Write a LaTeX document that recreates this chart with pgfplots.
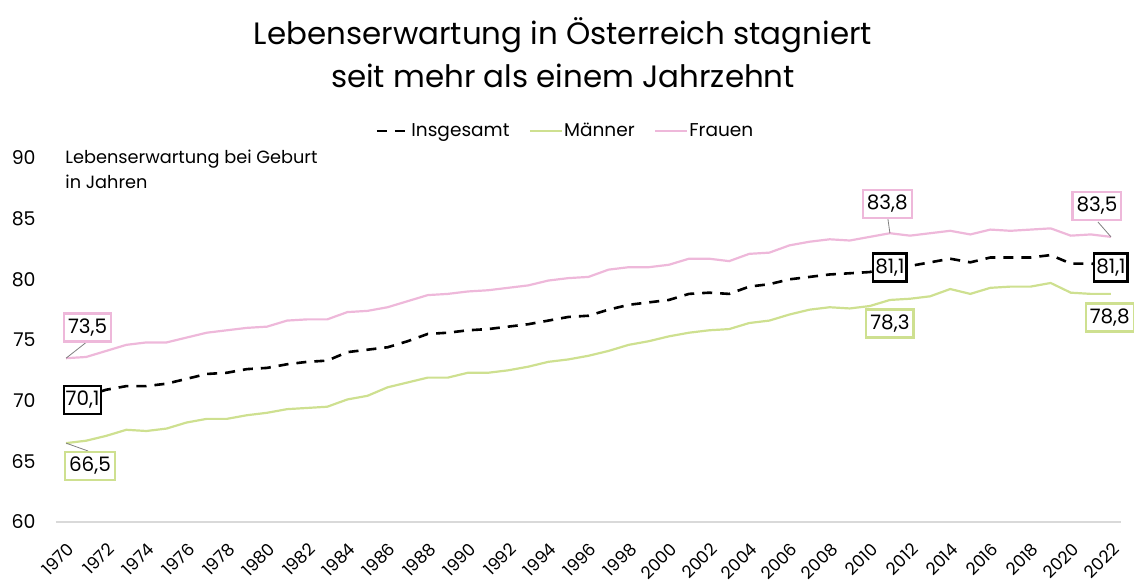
\documentclass[border=0pt]{standalone}
\usepackage{pgfplots}
\pgfplotsset{compat=1.18}
\usepackage{fontspec}
\setmainfont{Poppins}
\definecolor{frauen}{HTML}{EEB8DA}
\definecolor{maenner}{HTML}{CEE090}
\definecolor{axisgray}{HTML}{D9D9D9}

\pgfplotstableread{
year total men women
1970 70.1 66.5 73.5
1971 70.4 66.7 73.6
1972 70.9 67.1 74.1
1973 71.2 67.6 74.6
1974 71.2 67.5 74.8
1975 71.4 67.7 74.8
1976 71.8 68.2 75.2
1977 72.2 68.5 75.6
1978 72.3 68.5 75.8
1979 72.6 68.8 76.0
1980 72.7 69.0 76.1
1981 73.0 69.3 76.6
1982 73.2 69.4 76.7
1983 73.3 69.5 76.7
1984 74.0 70.1 77.3
1985 74.2 70.4 77.4
1986 74.4 71.1 77.7
1987 74.9 71.5 78.2
1988 75.5 71.9 78.7
1989 75.6 71.9 78.8
1990 75.8 72.3 79.0
1991 75.9 72.3 79.1
1992 76.1 72.5 79.3
1993 76.3 72.8 79.5
1994 76.6 73.2 79.9
1995 76.9 73.4 80.1
1996 77.0 73.7 80.2
1997 77.5 74.1 80.8
1998 77.9 74.6 81.0
1999 78.1 74.9 81.0
2000 78.3 75.3 81.2
2001 78.8 75.6 81.7
2002 78.9 75.8 81.7
2003 78.8 75.9 81.5
2004 79.4 76.4 82.1
2005 79.6 76.6 82.2
2006 80.0 77.1 82.8
2007 80.2 77.5 83.1
2008 80.4 77.7 83.3
2009 80.5 77.6 83.2
2010 80.6 77.8 83.5
2011 81.1 78.3 83.8
2012 81.1 78.4 83.6
2013 81.4 78.6 83.8
2014 81.7 79.2 84.0
2015 81.4 78.8 83.7
2016 81.8 79.3 84.1
2017 81.8 79.4 84.0
2018 81.8 79.4 84.1
2019 82.0 79.7 84.2
2020 81.3 78.9 83.6
2021 81.3 78.8 83.7
2022 81.1 78.8 83.5
}\lifedata

\begin{document}
\begin{tikzpicture}
\useasboundingbox (-28bp,-32.5bp) rectangle (539bp,261bp);
\begin{axis}[
  at={(0,0)}, anchor=south west,
  scale only axis, width=532.5bp, height=182bp,
  xmin=1969.5, xmax=2022.5, ymin=60, ymax=90,
  xtick={1970,1972,...,2022},
  ytick={60,65,...,90},
  axis x line*=bottom, axis y line*=left,
  x axis line style={draw=axisgray, line width=1bp, -},
  y axis line style={draw=none},
  major tick length=0pt,
  /pgf/number format/assume math mode=true,
  /pgf/number format/1000 sep={},
  yticklabel style={font=\fontsize{9.5}{11}\selectfont, text=black, inner sep=0pt, xshift=-10bp, anchor=east},
  xticklabel style={font=\fontsize{8.6}{10}\selectfont, text=black, inner sep=0pt, xshift=2.5bp, yshift=-12bp, rotate=45, anchor=east},
  clip=false,
  legend columns=3,
  legend style={draw=none, fill=none, at={(0.478,1.074)}, anchor=center,
    font=\fontsize{9.3}{11}\selectfont, nodes={inner xsep=0.6bp},
    /tikz/every even column/.append style={column sep=9bp}},
  legend image code/.code={\draw[#1] (0bp,0bp) -- (16bp,0bp);},
]
\addplot[black, line width=1.3bp, dash pattern=on 5bp off 4bp] table[x=year, y=total] {\lifedata};
\addlegendentry{Insgesamt}
\addplot[maenner, line width=1.1bp] table[x=year, y=men] {\lifedata};
\addlegendentry{Männer}
\addplot[frauen, line width=1.1bp] table[x=year, y=women] {\lifedata};
\addlegendentry{Frauen}

% leader lines
\draw[gray, line width=0.4bp] (axis cs:1970,73.5) -- (axis cs:1971.0,74.8);
\draw[gray, line width=0.4bp] (axis cs:1970,66.5) -- (axis cs:1971.1,65.85);
\draw[gray, line width=0.4bp] (axis cs:2011,83.8) -- (axis cs:2010.9,84.98);
\draw[gray, line width=0.4bp] (axis cs:2022,83.5) -- (axis cs:2021.35,84.73);

\tikzset{lab/.style={font=\fontsize{10}{12}\selectfont, fill=white, line width=1.1bp, inner xsep=2bp, inner ysep=2.8bp, text depth=0.12em, text height=0.72em}}
\node[lab, draw=frauen] at (axis cs:1971.07,76.03) {73,5};
\node[lab, draw=black, inner xsep=1bp] at (axis cs:1970.82,70.06) {70,1};
\node[lab, draw=maenner] at (axis cs:1971.19,64.62) {66,5};
\node[lab, draw=frauen] at (axis cs:2010.87,86.22) {83,8};
\node[lab, draw=black, inner xsep=1bp] at (axis cs:2011.0,80.98) {81,1};
\node[lab, draw=maenner] at (axis cs:2011.0,76.36) {78,3};
\node[lab, draw=frauen] at (axis cs:2021.3,86.05) {83,5};
\node[lab, draw=black, inner xsep=1bp] at (axis cs:2022.0,80.98) {81,1};
\node[lab, draw=maenner] at (axis cs:2021.94,76.86) {78,8};
\end{axis}
\node[anchor=base west, inner sep=0pt, font=\fontsize{8.9}{11}\selectfont] at (4.5bp,179.35bp) {Lebenserwartung bei Geburt};
\node[anchor=base west, inner sep=0pt, font=\fontsize{8.9}{11}\selectfont] at (4.5bp,166.85bp) {in Jahren};
\node[anchor=base, inner sep=0pt, font=\fontsize{15.5}{18}\selectfont] at (253.5bp,238.85bp) {Lebenserwartung in Österreich stagniert};
\node[anchor=base, inner sep=0pt, font=\fontsize{15.5}{18}\selectfont] at (253.5bp,217.15bp) {seit mehr als einem Jahrzehnt};
\end{tikzpicture}
\end{document}
